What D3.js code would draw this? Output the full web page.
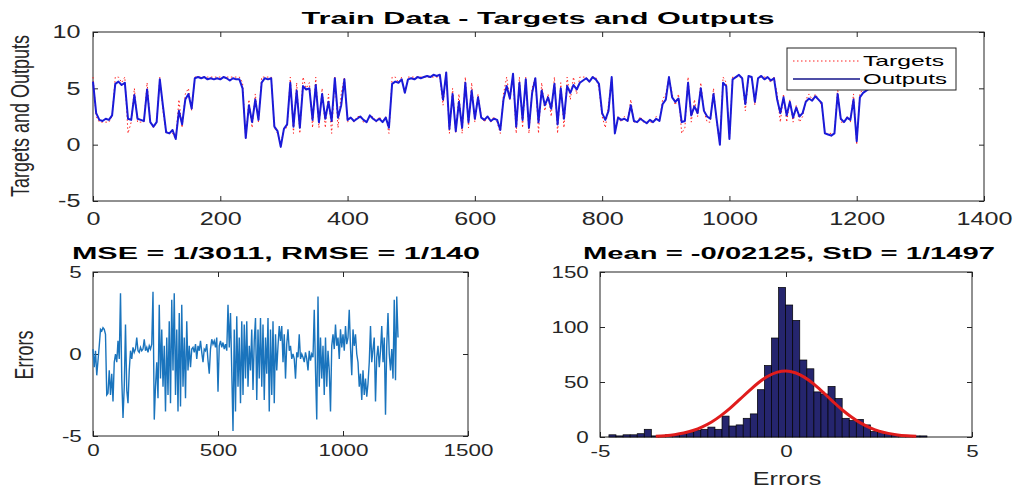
<!DOCTYPE html>
<html>
<head>
<meta charset="utf-8">
<script src="https://cdn.jsdelivr.net/npm/d3@7"></script>
<style>
  body { margin: 0; background: #fff; }
  svg { display: block; font-family: "Liberation Sans", Arial, sans-serif; }
  .axis text { fill: #262626; }
  .axis line { stroke: #262626; }
  .axis path { display: none; }
</style>
</head>
<body>
<script>
// training series, one value every 5 samples (sample 0 .. 1220)
var step = 5;

var outputs = [
  5.6, 2.8, 2.2, 2.1, 2.3, 2.2, 2.6, 5.4, 5.6, 5.3,
  5.5, 2.3, 2.2, 4.4, 2.3, 2.2, 2.1, 4.9, 2.0, 1.6,
  2.0, 5.8, 3.4, 1.1, 1.0, 1.3, 0.5, 3.0, 1.8, 4.0,
  4.5, 3.2, 5.9, 6.0, 5.9, 6.0, 5.8, 5.9, 5.8, 5.9,
  5.8, 6.0, 5.9, 5.7, 5.9, 5.8, 5.8, 5.0, 0.6, 3.5,
  2.0, 4.0, 2.2, 5.5, 5.9, 5.8, 5.9, 1.6, 1.2, -0.2,
  1.4, 1.8, 5.5, 1.6, 4.8, 1.5, 5.2, 4.9, 5.0, 2.2,
  5.3, 2.0, 4.5, 2.3, 3.8, 2.1, 5.9, 2.4, 3.5, 5.8,
  2.2, 2.4, 2.1, 2.3, 2.5, 2.2, 2.0, 2.6, 2.3, 2.1,
  2.3, 2.0, 2.4, 1.5, 5.4, 5.6, 5.5, 5.8, 4.6, 5.8,
  5.9, 5.8, 6.0, 5.9, 6.0, 6.1, 6.0, 6.2, 6.1, 6.2,
  4.0, 6.4, 1.4, 4.5, 1.2, 3.8, 1.5, 5.5, 2.0, 4.8,
  2.3, 4.2, 2.4, 2.2, 2.5, 2.1, 2.3, 2.2, 1.3, 4.0,
  5.2, 4.1, 6.3, 1.6, 5.5, 2.2, 5.8, 1.5, 4.6, 5.9,
  2.0, 4.8, 3.5, 4.2, 3.2, 5.4, 1.8, 5.0, 2.3, 5.2,
  4.6, 5.3, 4.9, 5.5, 5.7, 5.9, 5.6, 6.0, 5.8, 5.4,
  2.8, 2.2, 3.0, 6.0, 1.0, 2.4, 2.2, 2.3, 2.1, 3.5,
  2.1, 2.0, 2.3, 2.1, 1.9, 2.2, 2.0, 2.3, 2.1, 3.6,
  4.0, 6.0, 4.2, 3.8, 4.1, 2.0, 2.1, 5.5, 2.6, 3.4,
  2.8, 5.0, 3.0, 2.5, 2.3, 4.5, 2.2, 0.0, 5.5, 5.2,
  0.5, 5.8, 6.0, 6.2, 5.9, 3.6, 6.1, 6.0, 3.8, 5.9,
  6.1, 5.8, 6.0, 5.7, 5.9, 4.0, 2.8, 4.2, 2.6, 3.8,
  2.4, 3.3, 2.5, 2.8, 3.8, 4.1, 3.9, 4.3, 4.0, 3.7,
  1.0, 0.9, 0.8, 1.0, 4.5, 2.3, 2.0, 2.4, 2.2, 4.0,
  0.3, 4.2, 4.6, 4.8, 5.0
];

var targets = [
  6.0, 2.5, 2.0, 2.0, 2.0, 2.0, 2.5, 6.0, 6.0, 5.5,
  6.0, 1.0, 2.0, 5.0, 2.0, 2.0, 2.0, 5.5, 2.0, 1.5,
  2.0, 6.0, 3.0, 1.0, 1.0, 1.0, 0.5, 4.0, 1.5, 4.5,
  5.0, 3.0, 6.0, 6.0, 6.0, 6.0, 6.0, 6.0, 6.0, 6.0,
  6.0, 6.0, 6.0, 6.0, 6.0, 6.0, 6.0, 5.5, 0.5, 4.0,
  1.5, 4.5, 2.0, 6.0, 6.0, 6.0, 6.0, 1.5, 1.0, 0.0,
  1.5, 1.5, 6.0, 1.0, 5.5, 1.0, 6.0, 5.0, 5.5, 1.5,
  6.0, 1.5, 5.0, 1.5, 4.5, 1.0, 6.0, 1.5, 4.5, 6.0,
  2.0, 2.5, 2.0, 2.5, 2.5, 2.0, 2.0, 2.5, 2.5, 2.0,
  2.5, 2.0, 2.5, 1.0, 6.0, 6.0, 5.5, 6.0, 4.5, 6.0,
  6.0, 6.0, 6.0, 6.0, 6.0, 6.0, 6.0, 6.0, 6.0, 6.0,
  3.5, 6.5, 1.0, 5.0, 1.0, 4.5, 1.0, 6.0, 1.5, 5.5,
  2.0, 4.5, 2.5, 2.0, 2.5, 2.0, 2.5, 2.0, 1.0, 4.5,
  6.0, 4.0, 6.0, 1.0, 6.0, 1.5, 6.0, 1.0, 5.0, 6.0,
  1.0, 5.5, 3.0, 4.5, 2.5, 6.0, 1.0, 5.5, 1.5, 6.0,
  4.0, 6.0, 4.5, 6.0, 6.0, 6.0, 5.5, 6.0, 6.0, 5.0,
  2.5, 1.5, 3.5, 6.0, 1.0, 2.5, 2.0, 2.5, 2.0, 4.0,
  2.0, 2.0, 2.5, 2.0, 2.0, 2.0, 2.0, 2.5, 2.0, 4.0,
  4.5, 6.0, 4.5, 3.5, 4.5, 1.0, 1.5, 6.0, 2.0, 4.0,
  2.5, 5.5, 3.0, 2.0, 2.0, 5.0, 2.0, 0.0, 6.0, 5.5,
  0.5, 6.0, 6.0, 6.0, 6.0, 3.0, 6.0, 6.0, 3.5, 6.0,
  6.0, 6.0, 6.0, 5.5, 6.0, 4.5, 2.0, 4.5, 2.0, 4.0,
  2.0, 3.5, 2.0, 2.5, 4.0, 4.5, 4.0, 4.5, 4.0, 3.5,
  1.0, 1.0, 1.0, 1.0, 5.0, 2.0, 2.0, 2.5, 2.0, 4.5,
  0.0, 4.5, 5.0, 5.0, 5.0
];

var errors = [
  0.3, -0.8, 0.2, -1.3, -0.4, 0.5, 1.5, 1.4, 1.6, 1.5,
  1.2, -2.5, -2.4, -1.0, -2.5, -1.2, -2.9, -0.5, 0.0, -0.5,
  0.8, -0.3, 3.7, -1.5, -3.9, -2.0, 1.8, -2.2, -3.0, -1.0,
  0.2, -0.3, 0.4, 0.1, 0.3, 1.0, 0.2, 0.1, 0.4, 0.2,
  0.3, 0.9, 0.2, 0.4, 0.1, 0.5, 0.3, 0.6, 3.8, -4.0,
  -2.0, -0.5, -2.7, 3.0, -1.5, 1.5, -2.0, 0.5, -3.5, 1.0,
  -2.5, 2.0, -3.0, 3.3, -1.0, 3.7, -2.5, 1.5, -3.5, 2.5,
  -3.2, 3.0, -2.0, 1.0, -2.7, 2.0, -1.0, 0.5, -0.8, 0.3,
  0.4, 0.1, 0.6, -0.3, 0.5, 0.2, 0.8, 0.1, -0.5, 0.3,
  0.2, 0.6, -0.4, -1.2, 0.3, 0.9, 0.6, 0.8, 0.4, 1.0,
  -2.3, 0.5, 0.8, 0.4, 0.7, 0.3, 0.6, 0.2, 3.0, 0.4,
  2.5, -1.0, -4.7, 1.5, -3.5, 2.3, -2.0, 1.0, -3.0, 2.0,
  -2.5, 1.8, -1.5, 2.0, -2.0, 0.5, -1.0, 1.5, -2.2, 0.8,
  2.2, -2.8, 1.5, -1.5, 2.2, -2.0, 1.8, -2.8, 1.0, -1.2,
  2.2, -3.5, 1.5, -2.5, 2.0, -3.0, 1.2, -1.0, 0.5, 1.7,
  0.8, 1.7, -0.5, 1.2, -1.5, 0.6, 1.5, 0.2, 0.5, -0.3,
  0.0, -0.3, -1.5, 0.1, -0.2, 1.2, -0.3, 0.0, -0.2, -0.5,
  0.1, -0.3, -1.0, 0.2, -0.4, 0.0, -0.2, 2.7, -1.0, -4.0,
  3.5, -2.0, 1.0, -1.5, 0.5, -2.5, 1.0, -2.0, 0.2, -1.0,
  -3.5, 0.5, 1.2, 0.3, 1.8, 0.5, 1.0, -0.3, 1.5, 0.4,
  1.2, 0.2, 1.7, 0.6, 1.0, 2.7, 0.4, -1.3, 1.5, 0.5,
  1.2, 0.0, -0.5, -2.0, -1.2, -2.8, -1.0, -2.5, -1.5, -2.6,
  -1.8, -0.5, 1.7, -0.5, 0.3, 1.0, -2.9, -0.2, 0.5, -0.8,
  0.2, 1.7, -0.5, 1.0, -3.7, 0.5, 2.5, 0.0, -1.0, 0.3,
  -1.5, 3.3, -1.6, 3.5, 1.0
];

// error histogram: first bin edge, bin width, counts
var histStart = -4.76;
var histWidth = 0.19;
var histCounts = [
  2, 1, 2, 2, 3, 7, 1, 1, 2, 2, 3, 4, 6, 7, 9, 7, 19, 10, 11, 17, 21, 43, 65, 90,
  136, 120, 106, 70, 62, 41, 39, 46, 35, 17, 15, 16, 11, 5, 4, 3, 2, 1, 1, 0, 0, 1, 1
];

// fitted normal curve
var fitX = [-3.5, -3.25, -3, -2.75, -2.5, -2.25, -2, -1.75, -1.5, -1.25, -1, -0.75, -0.5, -0.25, 0,
            0.25, 0.5, 0.75, 1, 1.25, 1.5, 1.75, 2, 2.25, 2.5, 2.75, 3, 3.25, 3.5];
var fitY = [0.6, 1.2, 2.1, 3.6, 5.9, 9.2, 13.6, 19.4, 26.2, 33.9, 41.7, 49.1, 55.0, 58.8, 60.0,
            58.4, 54.2, 48.0, 40.5, 32.6, 25.0, 18.4, 12.8, 8.6, 5.4, 3.3, 1.9, 1.1, 0.6];

var titles = ["Train Data - Targets and Outputs", "MSE = 1/3011, RMSE = 1/140", "Mean = -0/02125, StD = 1/1497"];

var stretch = 1.4;  // the picture is wider than it is tall

var svg = d3.select("body").append("svg")
    .attr("width", 1021)
    .attr("height", 491);

// one MATLAB style axes box with inward ticks on all four sides
function panel(box, xDomain, yDomain, xTicks, yTicks, fontSize) {
  var w = box.right - box.left, h = box.bottom - box.top;
  var g = svg.append("g").attr("transform", "translate(" + box.left + "," + box.top + ")");
  var x = d3.scaleLinear().domain(xDomain).range([0, w]);
  var y = d3.scaleLinear().domain(yDomain).range([h, 0]);
  var fmt = function(d) { return String(d); };

  var gx = g.append("g").attr("class", "axis")
      .attr("transform", "translate(0," + h + ")")
      .call(d3.axisBottom(x).tickValues(xTicks).tickFormat(fmt)
            .tickSizeInner(-5).tickSizeOuter(0).tickPadding(box.xpad));
  var gy = g.append("g").attr("class", "axis")
      .call(d3.axisLeft(y).tickValues(yTicks).tickFormat(fmt)
            .tickSizeInner(-5).tickSizeOuter(0).tickPadding(box.ypad));
  g.append("g").attr("class", "axis")
      .call(d3.axisTop(x).tickValues(xTicks).tickFormat("").tickSizeInner(-5).tickSizeOuter(0));
  g.append("g").attr("class", "axis")
      .attr("transform", "translate(" + w + ",0)")
      .call(d3.axisRight(y).tickValues(yTicks).tickFormat("").tickSizeInner(-5).tickSizeOuter(0));

  gx.selectAll("text").style("font-size", fontSize + "px").attr("transform", "scale(" + stretch + ",1)");
  gy.selectAll("text").style("font-size", fontSize + "px").attr("transform", "scale(" + stretch + ",1)");

  g.append("rect")
      .attr("width", w).attr("height", h)
      .attr("fill", "none").attr("stroke", "#222").attr("stroke-width", 1);

  return {g: g, x: x, y: y, w: w, h: h};
}

function title(txt, cx, y, len) {
  svg.append("text")
      .attr("x", cx).attr("y", y)
      .attr("text-anchor", "middle")
      .attr("textLength", len).attr("lengthAdjust", "spacingAndGlyphs")
      .style("font-weight", "bold").style("font-size", "16px").style("fill", "#000")
      .text(txt);
}

function vlabel(txt, x, y) {
  svg.append("text")
      .attr("transform", "translate(" + x + "," + y + ") scale(" + stretch + ",1) rotate(-90)")
      .attr("text-anchor", "middle")
      .style("font-size", "18px").style("fill", "#262626")
      .text(txt);
}

// ---- top: targets and outputs
var pTop = panel({left: 93, right: 984, top: 32, bottom: 201, xpad: 11, ypad: 9},
                 [0, 1400], [-5, 10], d3.range(0, 1401, 200), [-5, 0, 5, 10], 18);

var tLine = d3.line().x(function(d, i) { return pTop.x(i * step); }).y(function(d) { return pTop.y(d); });

pTop.g.append("path")
    .attr("d", tLine(targets))
    .attr("fill", "none").attr("stroke", "#ff2020")
    .attr("stroke-width", 1).attr("stroke-dasharray", "1.5,2.5");

pTop.g.append("path")
    .attr("d", tLine(outputs))
    .attr("fill", "none").attr("stroke", "#1a1ad8")
    .attr("stroke-width", 2).attr("stroke-linejoin", "round");

// legend
var leg = svg.append("g").attr("transform", "translate(787,48)");
leg.append("rect").attr("width", 169).attr("height", 42)
    .attr("fill", "#fff").attr("stroke", "#222").attr("stroke-width", 1);
leg.append("line").attr("x1", 6).attr("x2", 73).attr("y1", 13).attr("y2", 13)
    .attr("stroke", "#ff2020").attr("stroke-dasharray", "1.5,2.5");
leg.append("line").attr("x1", 6).attr("x2", 73).attr("y1", 31).attr("y2", 31)
    .attr("stroke", "#14148a").attr("stroke-width", 1.4);
leg.append("text").attr("x", 76).attr("y", 18)
    .attr("textLength", 81).attr("lengthAdjust", "spacingAndGlyphs")
    .style("font-size", "15px").style("fill", "#000").text("Targets");
leg.append("text").attr("x", 76).attr("y", 36)
    .attr("textLength", 84).attr("lengthAdjust", "spacingAndGlyphs")
    .style("font-size", "15px").style("fill", "#000").text("Outputs");

title(titles[0], 538, 24, 473);
vlabel("Targets and Outputs", 29, 116);

// ---- bottom left: errors
var pErr = panel({left: 93, right: 468, top: 272, bottom: 436, xpad: 9, ypad: 8},
                 [0, 1500], [-5, 5], [0, 500, 1000, 1500], [-5, 0, 5], 16);

pErr.g.append("path")
    .attr("d", d3.line().x(function(d, i) { return pErr.x(i * step); }).y(function(d) { return pErr.y(d); })(errors))
    .attr("fill", "none").attr("stroke", "#1a74bd").attr("stroke-width", 1.4);

title(titles[1], 276, 259, 408);
vlabel("Errors", 33, 355);

// ---- bottom right: histogram with normal fit
var pHist = panel({left: 600, right: 972, top: 272, bottom: 437, xpad: 9, ypad: 8},
                  [-5, 5], [0, 150], [-5, 0, 5], [0, 50, 100, 150], 16);

pHist.g.selectAll("rect.bar")
    .data(histCounts)
  .enter().filter(function(c) { return c > 0; })
  .append("rect")
    .attr("class", "bar")
    .attr("x", function(c, i) { return pHist.x(histStart + i * histWidth); })
    .attr("width", function(c, i) { return pHist.x(histStart + (i + 1) * histWidth) - pHist.x(histStart + i * histWidth); })
    .attr("y", function(c) { return pHist.y(c); })
    .attr("height", function(c) { return pHist.y(0) - pHist.y(c); })
    .attr("fill", "#25256e").attr("stroke", "#000").attr("stroke-width", 0.7);

pHist.g.append("path")
    .attr("d", d3.line().curve(d3.curveMonotoneX)
        .x(function(d, i) { return pHist.x(fitX[i]); })
        .y(function(d) { return pHist.y(d); })(fitY))
    .attr("fill", "none").attr("stroke", "#e01c1c").attr("stroke-width", 3);

title(titles[2], 789, 259, 412);

svg.append("text")
    .attr("transform", "translate(787,485) scale(" + stretch + ",1)")
    .attr("text-anchor", "middle")
    .style("font-size", "18px").style("fill", "#262626")
    .text("Errors");
</script>
</body>
</html>
